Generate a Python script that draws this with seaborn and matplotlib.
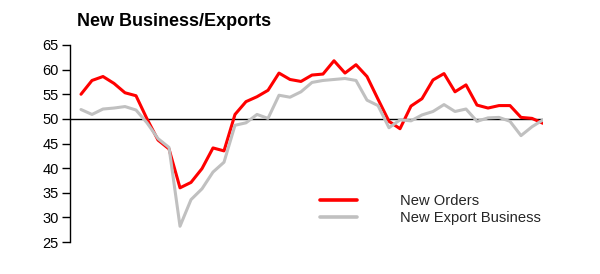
import numpy as np
import pandas as pd
import matplotlib
matplotlib.use("Agg")
import matplotlib.pyplot as plt
import seaborn as sns

title = "New Business/Exports"
series_names = ["New Orders", "New Export Business"]
new_orders = [55.0, 57.8, 58.6, 57.2, 55.3, 54.7, 50.0, 45.7, 43.9, 36.0,
              37.1, 39.9, 44.1, 43.5, 50.9, 53.5, 54.5, 55.8, 59.3, 58.0,
              57.6, 58.9, 59.1, 61.8, 59.3, 61.0, 58.6, 54.0, 49.5, 48.0,
              52.6, 54.1, 57.9, 59.2, 55.5, 56.9, 52.8, 52.2, 52.7, 52.7,
              50.3, 50.1, 49.1]
new_export = [51.9, 50.9, 52.0, 52.2, 52.5, 51.8, 49.2, 46.0, 44.2, 28.2,
              33.6, 35.8, 39.2, 41.2, 48.7, 49.2, 50.9, 50.1, 54.8, 54.4,
              55.5, 57.4, 57.8, 58.0, 58.2, 57.8, 53.8, 52.7, 48.2, 49.8,
              49.6, 50.8, 51.5, 52.9, 51.5, 52.0, 49.5, 50.2, 50.3, 49.5,
              46.6, 48.4, 49.8]
y_ticks = [25, 30, 35, 40, 45, 50, 55, 60, 65]
baseline = 50

n = len(new_orders)
df = pd.DataFrame({
    "period": list(range(n)) * 2,
    "value": new_orders + new_export,
    "series": [series_names[0]] * n + [series_names[1]] * n,
})

sns.set_style("white")
plt.rcParams["font.family"] = ["Liberation Sans", "DejaVu Sans"]

fig = plt.figure(figsize=(6.0, 2.74), dpi=100)
ax = fig.add_axes([70 / 600, 1 - 242 / 274, (543 - 70) / 600, (242 - 45) / 274])

palette = {series_names[0]: "#FF0000", series_names[1]: "#C0C0C0"}
sns.lineplot(data=df, x="period", y="value", hue="series", palette=palette,
             linewidth=2.2, ax=ax, legend=True)

ax.axhline(baseline, color="black", linewidth=1.0, zorder=1)
ax.set_xlim(-1, n - 1)
ax.set_ylim(25, 65)
ax.set_yticks(y_ticks)
ax.set_xticks([])
ax.set_xlabel("")
ax.set_ylabel("")
for s in ["top", "right", "bottom"]:
    ax.spines[s].set_visible(False)
ax.spines["left"].set_color("black")
ax.spines["left"].set_linewidth(1.0)
ax.tick_params(axis="y", direction="out", length=6, width=1.0, color="black",
               labelsize=10.5, labelcolor="black", pad=2, left=True)

fig.text(77 / 600, 1 - 22 / 274, title, fontsize=13, fontweight="bold",
         ha="left", va="center", color="black")

handles, labels = ax.get_legend_handles_labels()
leg = ax.legend(handles, labels, loc="upper left",
                bbox_to_anchor=(320 / 600, 1 - 194 / 274),
                bbox_transform=fig.transFigure, frameon=False,
                fontsize=10.6, handlelength=2.5, handletextpad=2.9,
                labelspacing=0.2, borderpad=0, borderaxespad=0)
for line in leg.get_lines():
    line.set_linewidth(2.6)

fig.savefig("out.png", dpi=100)
